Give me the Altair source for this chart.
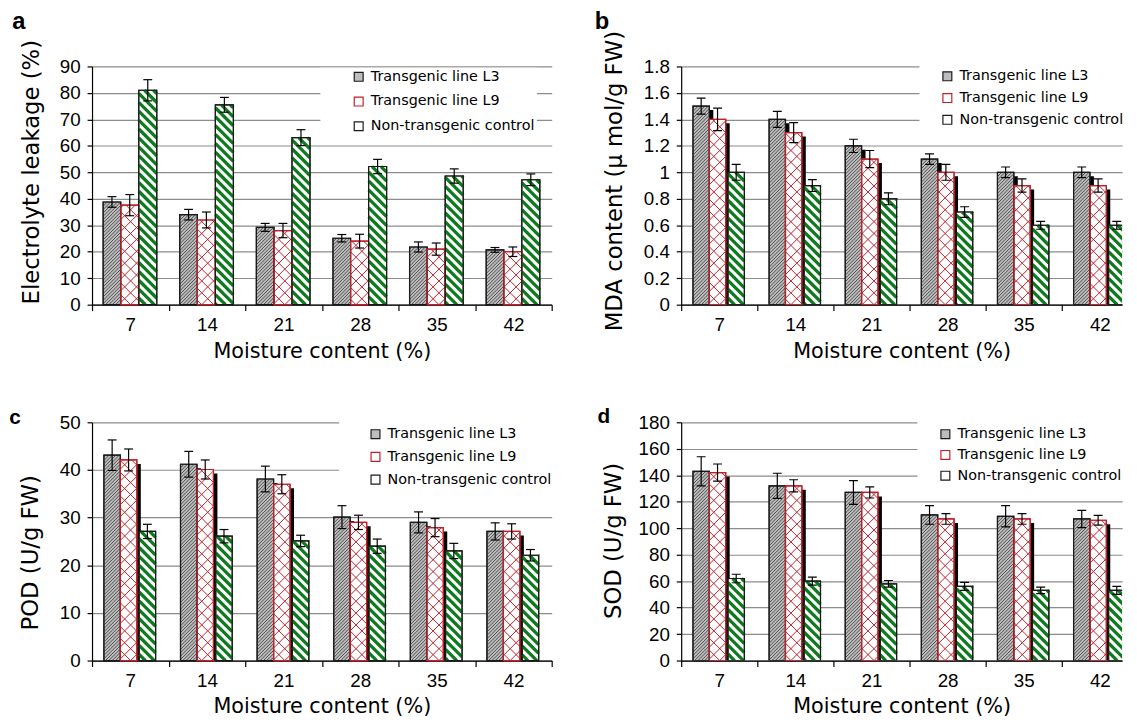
import math
import altair as alt
import pandas as pd

# ---------------- data ----------------
moisture = ["7", "14", "21", "28", "35", "42"]
series = ["Transgenic line L3", "Transgenic line L9", "Non-transgenic control"]

# a  Electrolyte leakage (%)
el_l3 = [38.8, 34.0, 29.2, 25.1, 21.8, 20.7]
el_l3_err = [2.0, 2.0, 1.5, 1.4, 1.9, 0.9]
el_l9 = [37.6, 32.0, 28.0, 24.0, 21.0, 20.0]
el_l9_err = [4.0, 3.0, 2.7, 2.6, 2.3, 1.8]
el_ctrl = [81.0, 75.5, 63.1, 52.2, 48.6, 47.2]
el_ctrl_err = [4.0, 2.8, 3.0, 2.7, 2.7, 2.2]

# b  MDA content (u mol/g FW)
mda_l3 = [1.50, 1.40, 1.20, 1.10, 1.00, 1.00]
mda_l3_err = [0.06, 0.06, 0.05, 0.04, 0.04, 0.04]
mda_l9 = [1.40, 1.30, 1.10, 1.00, 0.90, 0.90]
mda_l9_err = [0.085, 0.075, 0.065, 0.06, 0.05, 0.05]
mda_ctrl = [1.00, 0.90, 0.80, 0.70, 0.60, 0.60]
mda_ctrl_err = [0.06, 0.045, 0.045, 0.04, 0.03, 0.03]

# c  POD (U/g FW)
pod_l3 = [43.1, 41.2, 38.1, 30.1, 29.0, 27.1]
pod_l3_err = [3.2, 2.7, 2.7, 2.4, 2.2, 1.8]
pod_l9 = [42.1, 40.1, 37.0, 29.0, 27.9, 27.1]
pod_l9_err = [2.3, 2.0, 2.0, 1.5, 1.9, 1.6]
pod_ctrl = [27.1, 26.1, 25.1, 24.0, 23.0, 22.1]
pod_ctrl_err = [1.5, 1.4, 1.2, 1.5, 1.6, 1.2]

# d  SOD (U/g FW)
sod_l3 = [143, 132, 127, 110, 109, 107]
sod_l3_err = [11, 9.5, 9, 7, 8, 6.5]
sod_l9 = [142, 132, 127, 107, 107, 106]
sod_l9_err = [6.5, 4.6, 4.2, 4, 4, 3.7]
sod_ctrl = [62, 60, 58, 56, 53, 53]
sod_ctrl_err = [3.2, 3, 2.5, 3, 2.5, 3]

# ---------------- styling ----------------
GRID = "#8c8c8c"
FONT_T = "DejaVu Sans"
FONT_L = "Liberation Sans"
RED = "#c0202a"
GREEN = "#0e7a1e"
HATCH = "#4d4d4d"

GEO_A = [(0.145, 0.375), (0.375, 0.61), (0.61, 0.845)]
GEO_S = [(0.155, 0.37), (0.37, 0.585), (0.615, 0.83)]


def stripe_rows(bars, kx, ky, direction, period, phase=0.0):
    rows = []
    for xa, xb, v in bars:
        if v <= 0:
            continue
        u0, u1 = xa * kx, xb * kx
        bh = v * ky
        if direction == "down":  # u + w = c
            k = math.ceil((u0 - phase) / period)
            while True:
                c = phase + k * period
                if c >= u1 + bh:
                    break
                ua, ub = max(u0, c - bh), min(u1, c)
                if ub - ua > 0.05:
                    rows.append(dict(x=ua / kx, y=(c - ua) / ky, x2=ub / kx, y2=(c - ub) / ky))
                k += 1
        else:  # w = u - c
            k = math.ceil((u0 - bh - phase) / period)
            while True:
                c = phase + k * period
                if c >= u1:
                    break
                ua, ub = max(u0, c), min(u1, c + bh)
                if ub - ua > 0.05:
                    rows.append(dict(x=ua / kx, y=(ua - c) / ky, x2=ub / kx, y2=(ub - c) / ky))
                k += 1
    return pd.DataFrame(rows, columns=["x", "y", "x2", "y2"]).round(4)


def panel(letter, vals, errs, ymax, ystep, ytitle, W, H, xmax, geo, shadow,
          leg, tpad, ty, tdx, tdy, tsize):
    kx = W / xmax
    ky = H / ymax
    clip = xmax < 6
    rows = []
    for si, s in enumerate(series):
        for i, _ in enumerate(moisture):
            xa, xb = i + geo[si][0], i + geo[si][1]
            rows.append(dict(series=s, x=xa, x2=xb, y=vals[si][i], y2=0.0,
                             err=errs[si][i], xc=(xa + xb) / 2))
    bars = pd.DataFrame(rows)

    xs = alt.Scale(domain=[0, xmax], nice=False, zero=False)
    ys = alt.Scale(domain=[0, ymax], nice=False)
    xticks = [k / 2 for k in range(0, int(math.floor(2 * xmax + 1e-9)) + 1)]
    lab = "[" + ",".join("'%s'" % m for m in moisture) + "]"
    xaxis = alt.Axis(
        values=xticks,
        labelExpr="datum.value %% 1 != 0 ? %s[floor(datum.value)] : ''" % lab,
        tickOpacity={"condition": {"test": "datum.value % 1 != 0", "value": 0}, "value": 1},
        tickSize=6, tickColor="black", tickWidth=1.2,
        domainColor="black", domainWidth=1.2, grid=False,
        labelFont=FONT_L, labelFontSize=19, labelColor="black", labelPadding=5,
        labelOverlap=False, labelFlush=False,
        title="Moisture content (%)", titleFont=FONT_T, titleFontSize=21,
        titleFontWeight="normal", titleColor="black", titlePadding=6,
    )
    yvals = [round(k * ystep, 6) for k in range(int(round(ymax / ystep)) + 1)]
    yaxis = alt.Axis(
        values=yvals, format="~r", grid=True, gridColor=GRID, gridWidth=1.2,
        tickSize=5, tickColor="black", tickWidth=1.2,
        domainColor="black", domainWidth=1.2,
        labelFont=FONT_L, labelFontSize=19, labelColor="black", labelPadding=7,
        labelOverlap=False,
        title=ytitle, titleFont=FONT_T, titleFontSize=23, titleFontWeight="normal",
        titleColor="black", titlePadding=tpad, titleY=ty,
    )
    enc = dict(x=alt.X("x:Q", scale=xs, axis=xaxis), x2=alt.X2("x2"),
               y=alt.Y("y:Q", scale=ys, axis=yaxis), y2=alt.Y2("y2"))

    legend = alt.Legend(
        orient="none", legendX=leg["x"], legendY=leg["y"], title=None,
        direction="vertical", fillColor="white", padding=leg["pad"],
        symbolOffset=leg["off"], symbolType="square", symbolSize=81,
        symbolStrokeWidth=1.2, rowPadding=leg["row"], labelOffset=5,
        labelFont=FONT_T, labelFontSize=14.5, labelColor="black", labelLimit=400,
    )
    fill = alt.Fill("series:N", scale=alt.Scale(domain=series, range=["#bdbdbd", "white", "white"]),
                    legend=legend)
    stroke = alt.Stroke("series:N", scale=alt.Scale(domain=series, range=["#1a1a1a", RED, "#1a1a1a"]),
                        legend=legend)

    layers = []
    if shadow:
        sh = bars[bars.series != series[2]][["x", "x2", "y", "y2"]].copy()
        sh["x"] = sh["x"] + 4 / kx
        sh["x2"] = sh["x2"] + 4 / kx
        sh["y"] = sh["y"] - 4 / ky
        layers.append(alt.Chart(sh).mark_rect(color="black", clip=clip).encode(**enc))
    layers.append(alt.Chart(bars).mark_rect(strokeWidth=1.2, clip=clip).encode(**enc, fill=fill, stroke=stroke))

    def bg(si):
        return [(i + geo[si][0], i + geo[si][1], vals[si][i]) for i in range(len(moisture))]

    l3 = stripe_rows(bg(0), kx, ky, "up", 3.4)
    l9 = pd.concat([stripe_rows(bg(1), kx, ky, "up", 12.0, 3.0),
                    stripe_rows(bg(1), kx, ky, "down", 12.0, 3.0)])
    ct = stripe_rows(bg(2), kx, ky, "down", 9.0)
    layers.append(alt.Chart(l3).mark_rule(color=HATCH, strokeWidth=1, clip=clip).encode(**enc))
    layers.append(alt.Chart(l9).mark_rule(color=RED, strokeWidth=1, clip=clip).encode(**enc))
    layers.append(alt.Chart(ct).mark_rule(color=GREEN, strokeWidth=3.3, clip=clip).encode(**enc))
    layers.append(alt.Chart(bars).mark_rect(fillOpacity=0, strokeWidth=1.2, clip=clip)
                  .encode(**enc, stroke=stroke))

    cap = 4.5 / kx
    er = pd.concat([
        pd.DataFrame(dict(x=bars.xc, x2=bars.xc, y=bars.y - bars.err, y2=bars.y + bars.err)),
        pd.DataFrame(dict(x=bars.xc - cap, x2=bars.xc + cap, y=bars.y + bars.err, y2=bars.y + bars.err)),
        pd.DataFrame(dict(x=bars.xc - cap, x2=bars.xc + cap, y=bars.y - bars.err, y2=bars.y - bars.err)),
    ]).round(5)
    layers.append(alt.Chart(er).mark_rule(color="black", strokeWidth=1.2, clip=clip).encode(**enc))

    return alt.layer(*layers).properties(
        width=W, height=H,
        title=alt.TitleParams(letter, anchor="start", frame="bounds", font=FONT_L,
                              fontSize=tsize, fontWeight="bold", color="black",
                              offset=0, dx=tdx, dy=tdy),
    )


WA, WB, H = 465, 446, 241
XB = WB / 77.0

pa = panel("a", [el_l3, el_l9, el_ctrl], [el_l3_err, el_l9_err, el_ctrl_err], 90, 10,
           "Electrolyte leakage (%)", WA, H, 6, GEO_A, False,
           dict(x=231, y=1.25, pad=2, off=29.5, row=9), 16.5, 106.5, -8, -6, 24)
pb = panel("b", [mda_l3, mda_l9, mda_ctrl], [mda_l3_err, mda_l9_err, mda_ctrl_err], 1.8, 0.2,
           "MDA content (\u03bc mol/g FW)", WB, H, XB, GEO_S, True,
           dict(x=241, y=-1.25, pad=4, off=17, row=6), 17, 115.5, -9, 4, 24)
pc = panel("c", [pod_l3, pod_l9, pod_ctrl], [pod_l3_err, pod_l9_err, pod_ctrl_err], 50, 10,
           "POD (U/g FW)", WA, H, 6, GEO_S, True,
           dict(x=250, y=-3.25, pad=8, off=21.5, row=7), 17.5, 131.5, -10, 15, 21)
pd_ = panel("d", [sod_l3, sod_l9, sod_ctrl], [sod_l3_err, sod_l9_err, sod_ctrl_err], 180, 20,
            "SOD (U/g FW)", WB, H, XB, GEO_S, True,
            dict(x=239, y=-1.25, pad=6, off=15, row=5), 13, 119.5, -5, 14, 21)

chart = (
    alt.concat(pa, pb, pc, pd_, columns=2, spacing={"row": 44, "column": 34})
    .resolve_scale(x="independent", y="independent", fill="independent", stroke="independent")
    .configure_view(stroke="transparent")
    .properties(padding={"left": 0, "top": -3, "right": 0, "bottom": -4}, background="white")
)

chart.save("out.html", embed_options={"renderer": "svg", "actions": False})
